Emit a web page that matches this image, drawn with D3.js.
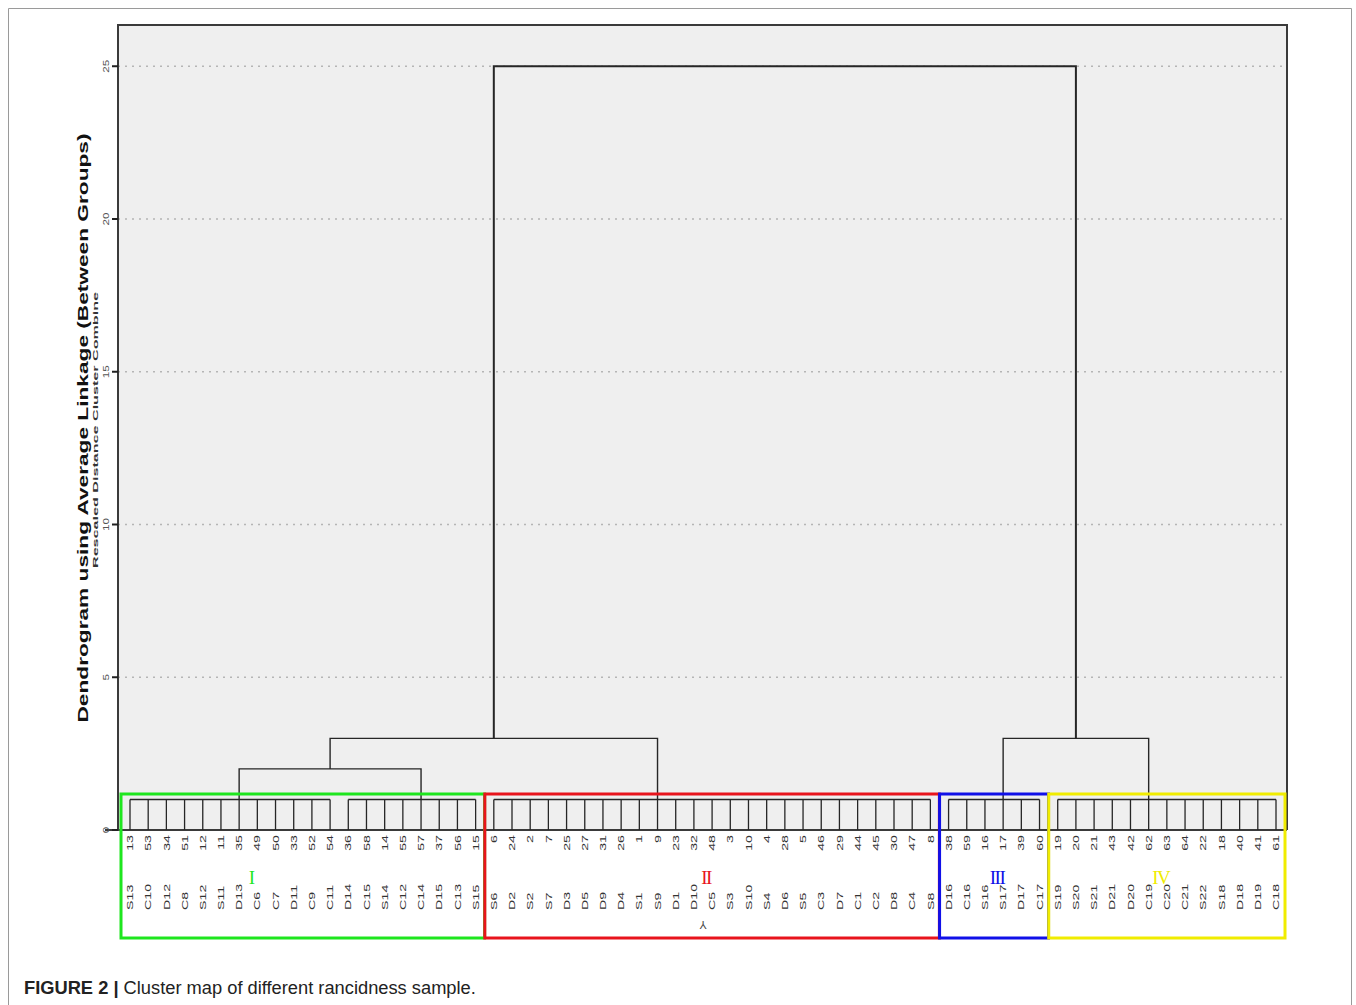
<!DOCTYPE html>
<html>
<head>
<meta charset="utf-8">
<script src="https://cdn.jsdelivr.net/npm/d3@7"></script>
<style>
  body { margin: 0; background: #fff; }
  svg { display: block; font-family: Arial, "Liberation Sans", sans-serif; }
</style>
</head>
<body>
<svg id="chart" width="1356" height="1005"></svg>
<script>
// ---- data -------------------------------------------------------------
// leaves of each cluster, in dendrogram order (sample name and case number)
const namesI   = ["S13","C10","D12","C8","S12","S11","D13","C6","C7","D11","C9","C11","D14","C15","S14","C12","C14","D15","C13","S15"];
const casesI   = [13,53,34,51,12,11,35,49,50,33,52,54,36,58,14,55,57,37,56,15];
const namesII  = ["S6","D2","S2","S7","D3","D5","D9","D4","S1","S9","D1","D10","C5","S3","S10","S4","D6","S5","C3","D7","C1","C2","D8","C4","S8"];
const casesII  = [6,24,2,7,25,27,31,26,1,9,23,32,48,3,10,4,28,5,46,29,44,45,30,47,8];
const namesIII = ["D16","C16","S16","S17","D17","C17"];
const casesIII = [38,59,16,17,39,60];
const namesIV  = ["S19","S20","S21","D21","D20","C19","C20","C21","S22","S18","D18","D19","C18"];
const casesIV  = [19,20,21,43,42,62,63,64,22,18,40,41,61];

const clusterLabels = ["I","II","III","IV"];
const clusterColors = ["#1ee61e","#e8141c","#1010e8","#f0ec00"];
const clusterNames  = [namesI, namesII, namesIII, namesIV];
const clusterCases  = [casesI, casesII, casesIII, casesIV];
// leaves between which each cluster's numeral sits
const clusterLabelAt = [["D13","C6"], ["D10","C5"], ["S16","S17"], ["C19","C20"]];

// lowest-level groups: the leaves they join, the leaf carrying the stem, the joining distance
const groupIds    = ["Ia","Ib","II","III","IV"];
const groupLeaves = [namesI.slice(0, 12), namesI.slice(12), namesII, namesIII, namesIV];
const groupStem   = ["D13","C14","S9","S17","C19"];
const groupDist   = [1, 1, 1, 1, 1];

// higher merges (rescaled distance)
const mergeIds   = ["I","I+II","III+IV","all"];
const mergeLeft  = ["Ia","I","III","I+II"];
const mergeRight = ["Ib","II","IV","III+IV"];
const mergeDist  = [2, 3, 3, 25];

const yTicks = [0, 5, 10, 15, 20, 25];
const yTitle = "Dendrogram using Average Linkage (Between Groups)";
const ySubtitle = "Rescaled Distance Cluster Combine";
const captionBold = "FIGURE 2 |";
const captionText = " Cluster map of different rancidness sample.";

// ---- layout -------------------------------------------------------------
const svg = d3.select("#chart");
const W = 1356, H = 1005;
const plot = { left: 118, right: 1287, top: 25, bottom: 830 };
const lineColor = "#262626";

svg.append("rect").attr("width", W).attr("height", H).attr("fill", "#fff");
// figure frame
svg.append("path").attr("d", `M8.5,${H} V8.5 H1351.5 V${H}`)
  .attr("fill", "none").attr("stroke", "#9a9a9a").attr("stroke-width", 1);

const allLeaves = [].concat(...clusterNames);
const allCases = [].concat(...clusterCases);

const x = d3.scalePoint().domain(allLeaves).range([plot.left + 12, plot.right - 11]);
const y = d3.scaleLinear().domain([0, 26.35]).range([plot.bottom, plot.top]);

// plot panel
svg.append("rect")
  .attr("x", plot.left).attr("y", plot.top)
  .attr("width", plot.right - plot.left).attr("height", plot.bottom - plot.top)
  .attr("fill", "#efefef");

// dotted grid
svg.append("g").selectAll("line").data(yTicks.filter(t => t > 0)).join("line")
  .attr("x1", plot.left).attr("x2", plot.right)
  .attr("y1", d => y(d)).attr("y2", d => y(d))
  .attr("stroke", "#b5b5b5").attr("stroke-width", 1.4).attr("stroke-dasharray", "2,5");

// panel border (left, top, right) and baseline
svg.append("path")
  .attr("d", `M${plot.left},${plot.bottom} V${plot.top} H${plot.right} V${plot.bottom}`)
  .attr("fill", "none").attr("stroke", "#3a3a3a").attr("stroke-width", 2);
svg.append("line")
  .attr("x1", plot.left - 13).attr("x2", plot.right)
  .attr("y1", plot.bottom).attr("y2", plot.bottom)
  .attr("stroke", "#3a3a3a").attr("stroke-width", 2);

// y ticks and labels
const yt = svg.append("g");
yt.selectAll("line").data(yTicks).join("line")
  .attr("x1", plot.left - 6).attr("x2", plot.left)
  .attr("y1", d => y(d)).attr("y2", d => y(d))
  .attr("stroke", "#222").attr("stroke-width", 2);
yt.selectAll("text").data(yTicks).join("text")
  .attr("transform", d => `translate(${plot.left - 12},${y(d)}) rotate(-90) scale(1.3,1)`)
  .attr("text-anchor", "middle").attr("dominant-baseline", "central")
  .attr("font-size", 9).attr("fill", "#555")
  .text(d => d);

// axis titles
svg.append("text")
  .attr("transform", `translate(82,${428}) rotate(-90)`)
  .attr("text-anchor", "middle").attr("dominant-baseline", "central")
  .attr("font-size", 15.5).attr("font-weight", "bold").attr("fill", "#111")
  .attr("textLength", 589).attr("lengthAdjust", "spacingAndGlyphs")
  .text(yTitle);
svg.append("text")
  .attr("transform", `translate(95,${430}) rotate(-90)`)
  .attr("text-anchor", "middle").attr("dominant-baseline", "central")
  .attr("font-size", 8).attr("font-weight", "bold").attr("fill", "#333")
  .attr("textLength", 276).attr("lengthAdjust", "spacingAndGlyphs")
  .text(ySubtitle);

// ---- dendrogram -------------------------------------------------------
const nodes = new Map();
groupIds.forEach((id, i) => nodes.set(id, { x: x(groupStem[i]), d: groupDist[i] }));

const dendro = svg.append("g").attr("fill", "none").attr("stroke", lineColor);

// combs: every leaf rises to its group's joining distance
groupIds.forEach((id, i) => {
  const lv = groupLeaves[i];
  const h = y(groupDist[i]);
  dendro.append("line")
    .attr("x1", x(lv[0])).attr("x2", x(lv[lv.length - 1]))
    .attr("y1", h).attr("y2", h).attr("stroke-width", 1.4);
  dendro.selectAll(null).data(lv).join("line")
    .attr("x1", d => x(d)).attr("x2", d => x(d))
    .attr("y1", y(0)).attr("y2", h).attr("stroke-width", 1.3);
});

// merges above the groups
mergeIds.forEach((id, i) => {
  const a = nodes.get(mergeLeft[i]), b = nodes.get(mergeRight[i]);
  const h = y(mergeDist[i]);
  const w = mergeDist[i] > 10 ? 2 : 1.4;
  const p = d3.path();
  p.moveTo(a.x, y(a.d)); p.lineTo(a.x, h); p.lineTo(b.x, h); p.lineTo(b.x, y(b.d));
  dendro.append("path").attr("d", p.toString()).attr("stroke-width", w);
  nodes.set(id, { x: (a.x + b.x) / 2, d: mergeDist[i] });
});

// ---- leaf labels --------------------------------------------------------
const lab = svg.append("g").attr("fill", "#333").attr("font-size", 9.5);
lab.selectAll(".case").data(allLeaves).join("text")
  .attr("class", "case")
  .attr("transform", d => `translate(${x(d)},835) rotate(-90) scale(1.5,1)`)
  .attr("text-anchor", "end").attr("dominant-baseline", "central")
  .text((d, i) => allCases[i]);
lab.selectAll(".name").data(allLeaves).join("text")
  .attr("class", "name")
  .attr("transform", d => `translate(${x(d)},910) rotate(-90) scale(1.5,1)`)
  .attr("text-anchor", "start").attr("dominant-baseline", "central")
  .text(d => d);

// axis variable marker under the leaves
svg.append("text")
  .attr("transform", `translate(${(x("C5") + x("D10")) / 2},925) rotate(180)`)
  .attr("text-anchor", "middle").attr("dominant-baseline", "central")
  .attr("font-size", 11).attr("fill", "#444").text("Y");

// ---- cluster boxes --------------------------------------------------------
const pad = 9;
const boxes = svg.append("g");
clusterLabels.forEach((lbl, i) => {
  const lv = clusterNames[i];
  const x0 = x(lv[0]) - pad, x1 = x(lv[lv.length - 1]) + pad;
  boxes.append("rect")
    .attr("x", x0).attr("y", 794).attr("width", x1 - x0).attr("height", 144)
    .attr("fill", "none").attr("stroke", clusterColors[i]).attr("stroke-width", 3);
  const [la, lb] = clusterLabelAt[i];
  boxes.append("text")
    .attr("x", (x(la) + x(lb)) / 2 + 3).attr("y", 877)
    .attr("text-anchor", "middle").attr("dominant-baseline", "central")
    .attr("font-family", "'Liberation Serif','DejaVu Serif',serif")
    .attr("font-size", 19).attr("letter-spacing", -1.5)
    .attr("fill", clusterColors[i]).text(lbl);
});

// ---- caption ---------------------------------------------------------------
const cap = svg.append("text").attr("x", 24).attr("y", 994)
  .attr("font-size", 18.3).attr("fill", "#222");
cap.append("tspan").attr("font-weight", "bold").text(captionBold);
cap.append("tspan").text(captionText);
</script>
</body>
</html>
